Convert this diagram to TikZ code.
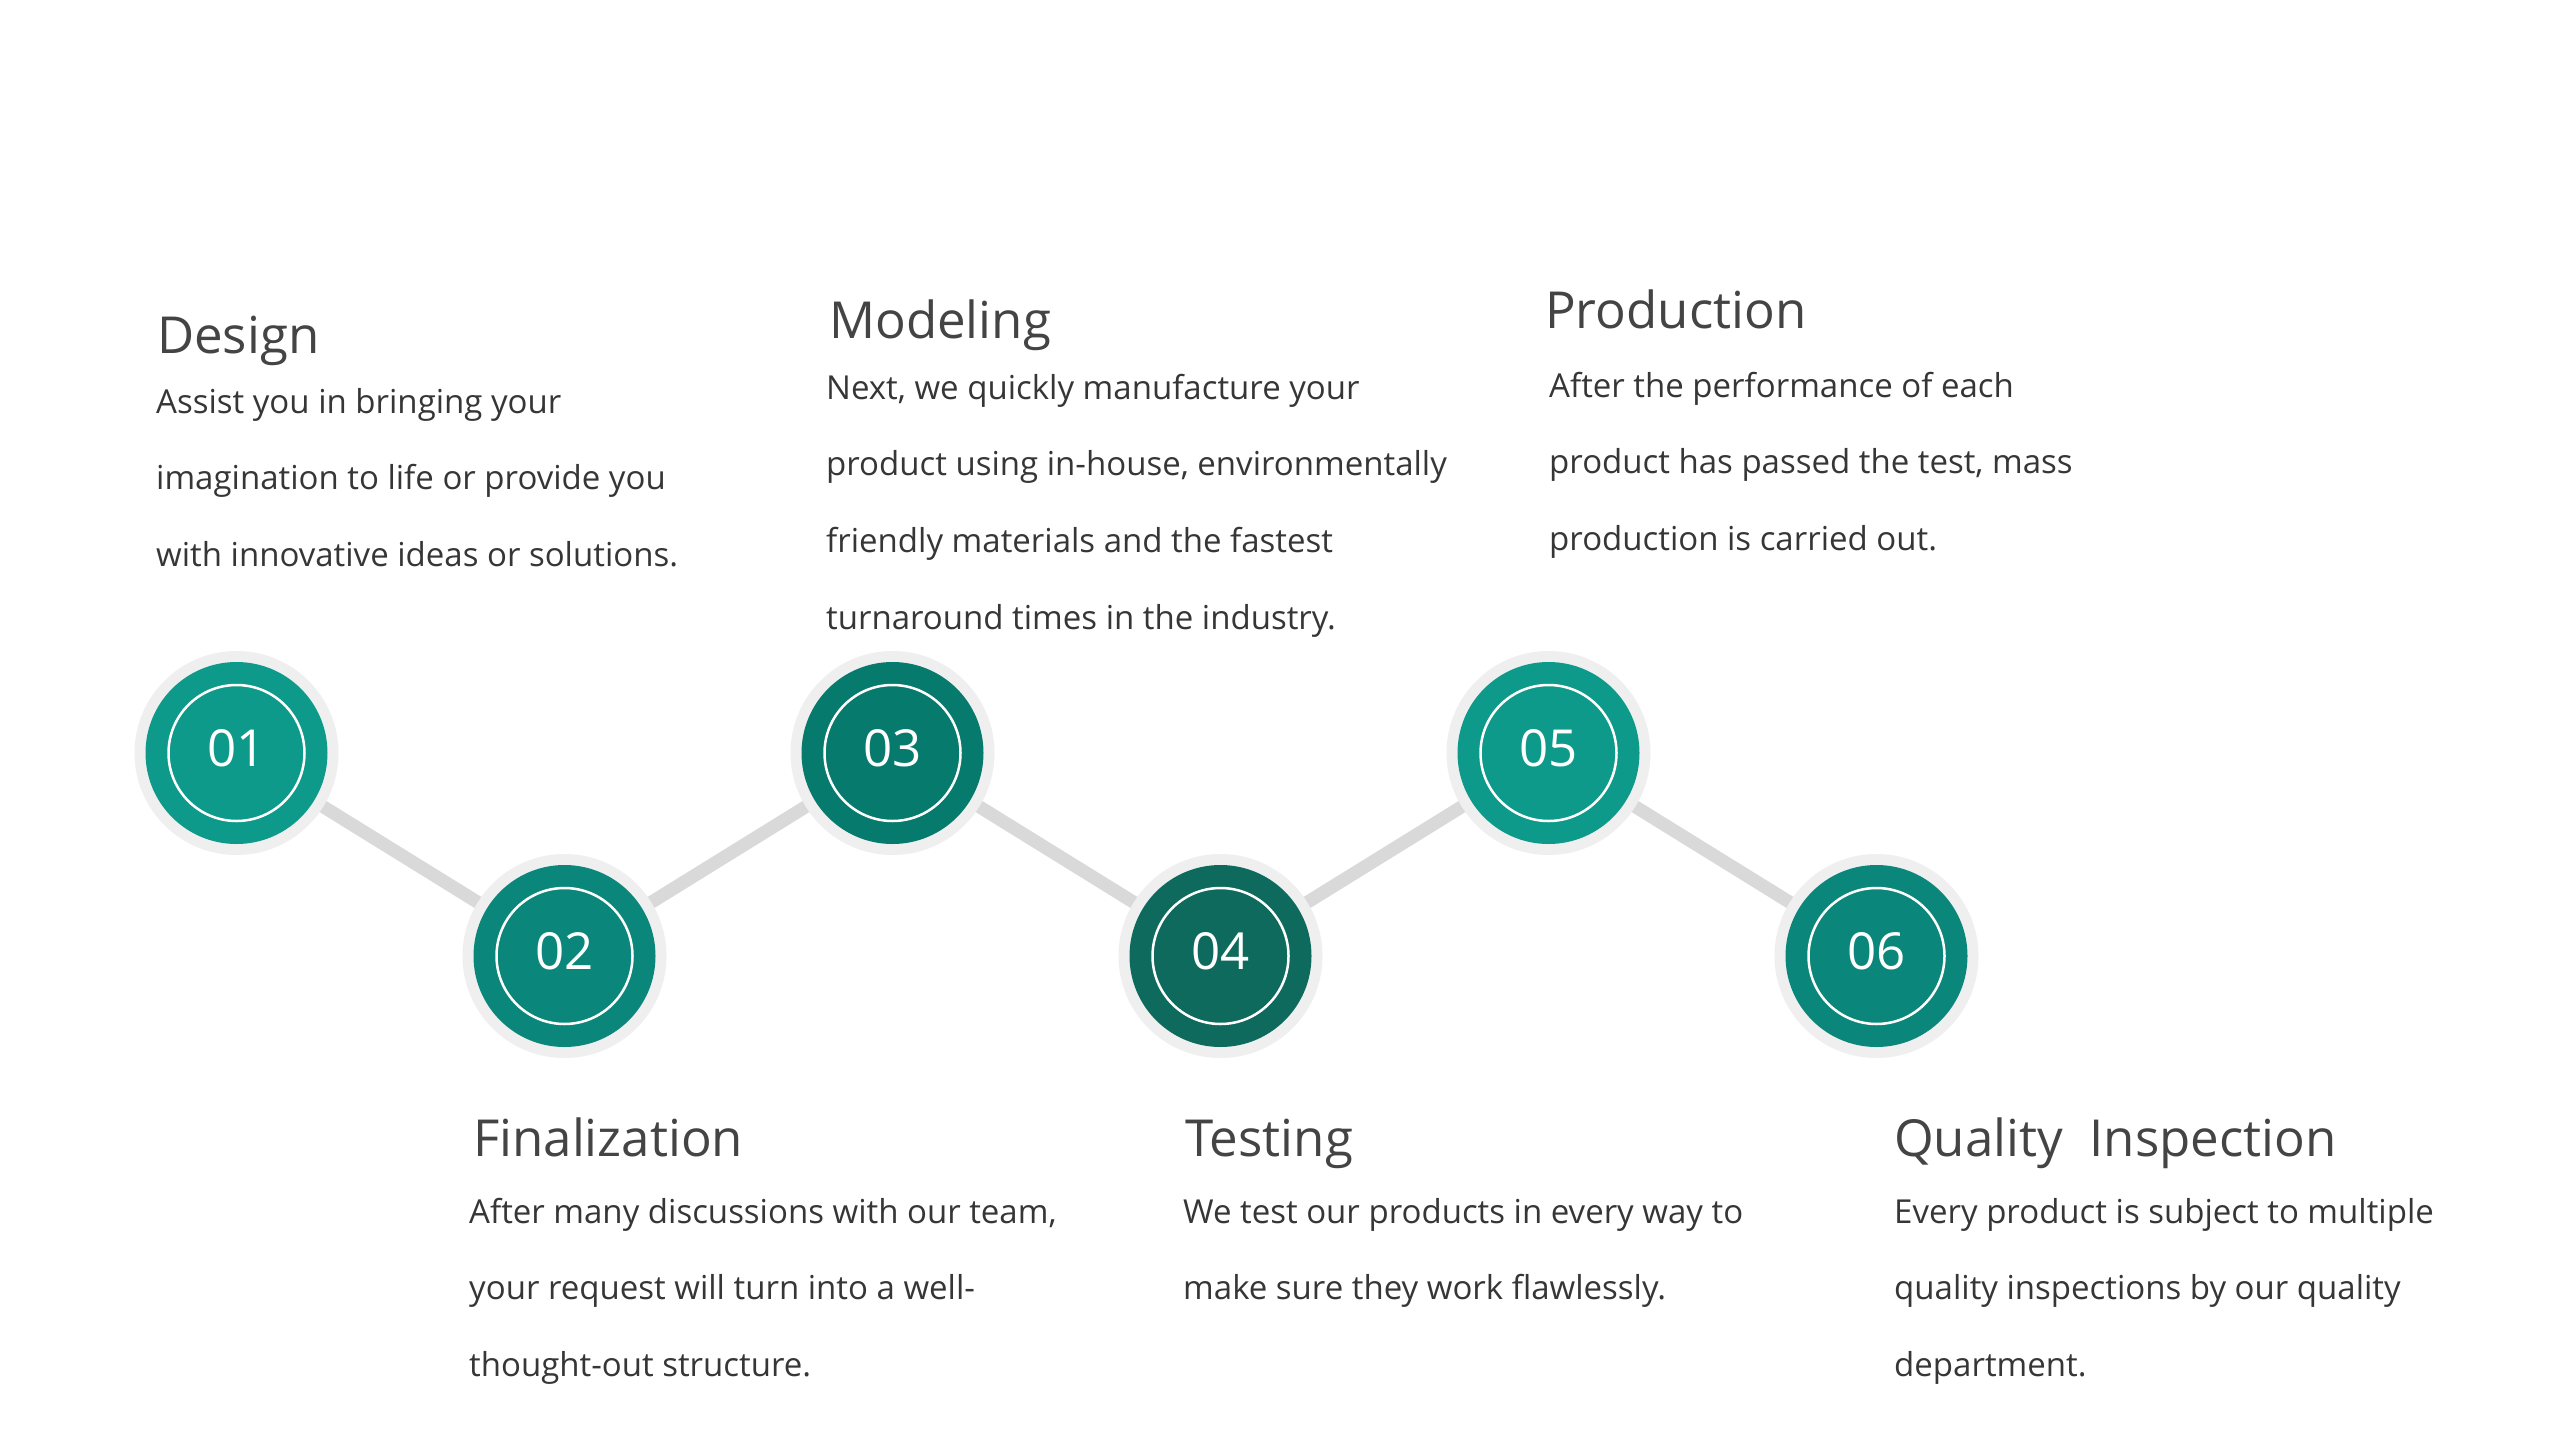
\documentclass[tikz,border=0pt]{standalone}
\usepackage{fontspec}
\setmainfont{Open Sans}
\definecolor{ringgray}{HTML}{EFEFEF}
\definecolor{linkgray}{HTML}{D9D9D9}
\definecolor{tealA}{HTML}{0E9A8A}
\definecolor{tealB}{HTML}{0A877A}
\definecolor{tealC}{HTML}{067A6C}
\definecolor{tealD}{HTML}{0E6A5C}
\definecolor{titlegray}{HTML}{444444}
\definecolor{bodygray}{HTML}{363636}
\tikzset{
  ringnode/.style={circle, fill=ringgray, minimum size=204pt, inner sep=0pt},
  numtext/.style={text=white, font=\fontsize{51}{60}\selectfont, inner sep=0pt},
  titletext/.style={anchor=base west, inner sep=0pt, text=titlegray, font=\fontsize{51}{60}\selectfont},
  bodytext/.style={anchor=base west, inner sep=0pt, text=bodygray, font=\fontsize{33}{76.7}\selectfont},
  link/.style={draw=linkgray, line width=13pt}
}
\newcommand{\stepcircle}[4]{%
  \node[ringnode] (#1) at #2 {};
  \fill[#3] (#1.center) circle (91pt);
  \draw[white, line width=2.5pt] (#1.center) circle (68pt);
  \node[numtext] (#1num) at ([yshift=5pt]#1.center) {#4};
}
\begin{document}
\begin{tikzpicture}[x=1pt, y=-1pt]
\fill[white] (0,0) rectangle (2560,1440);
\useasboundingbox (0,0) rectangle (2560,1440);

% connectors (behind)
\coordinate (p1) at (236.5,753);
\coordinate (p2) at (564.5,956);
\coordinate (p3) at (892.5,753);
\coordinate (p4) at (1220.5,956);
\coordinate (p5) at (1548.5,753);
\coordinate (p6) at (1876.5,956);
\draw[link] (p1) -- (p2) -- (p3) -- (p4) -- (p5) -- (p6);

% circles
\stepcircle{c1}{(p1)}{tealA}{01}
\stepcircle{c2}{(p2)}{tealB}{02}
\stepcircle{c3}{(p3)}{tealC}{03}
\stepcircle{c4}{(p4)}{tealD}{04}
\stepcircle{c5}{(p5)}{tealA}{05}
\stepcircle{c6}{(p6)}{tealB}{06}

% texts
\node[titletext] (t1) at (157,353) {Design};
\node[bodytext] (b1) at (156,413) {\begin{tabular}[t]{@{}l@{}}Assist you in bringing your\\ imagination to life or provide you\\ with innovative ideas or solutions.\end{tabular}};

\node[titletext] (t3) at (829,338) {Modeling};
\node[bodytext] (b3) at (826,399) {\begin{tabular}[t]{@{}l@{}}Next, we quickly manufacture your\\ product using in-house, environmentally\\ friendly materials and the fastest\\ turnaround times in the industry.\end{tabular}};

\node[titletext] (t5) at (1545,328) {Production};
\node[bodytext] (b5) at (1549,397) {\begin{tabular}[t]{@{}l@{}}After the performance of each\\ product has passed the test, mass\\ production is carried out.\end{tabular}};

\node[titletext] (t2) at (473,1156) {Finalization};
\node[bodytext] (b2) at (469,1223) {\begin{tabular}[t]{@{}l@{}}After many discussions with our team,\\ your request will turn into a well-\\ thought-out structure.\end{tabular}};

\node[titletext] (t4) at (1185,1156) {Testing};
\node[bodytext] (b4) at (1183,1223) {\begin{tabular}[t]{@{}l@{}}We test our products in every way to\\ make sure they work flawlessly.\end{tabular}};

\node[titletext] (t6) at (1894,1156) {Quality~~Inspection};
\node[bodytext] (b6) at (1894,1223) {\begin{tabular}[t]{@{}l@{}}Every product is subject to multiple\\ quality inspections by our quality\\ department.\end{tabular}};
\end{tikzpicture}
\end{document}
